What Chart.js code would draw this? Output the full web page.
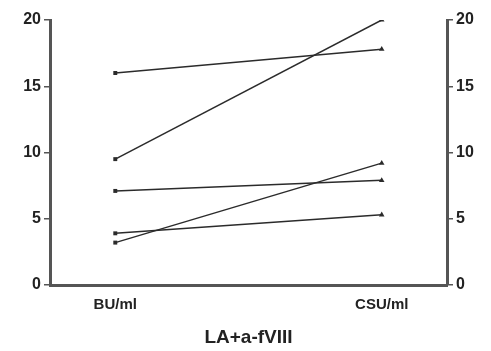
<!DOCTYPE html>
<html>
<head>
<meta charset="utf-8">
<script src="https://cdn.jsdelivr.net/npm/chart.js@4/dist/chart.umd.min.js"></script>
<style>
  html, body { margin: 0; padding: 0; background: #fff; }
  #wrap { width: 491px; height: 351px; }
</style>
</head>
<body>
<div id="wrap"><canvas id="c" width="491" height="351"></canvas></div>
<script>
// Paired measurements per patient: inhibitor titre (BU/ml) vs CSU/ml
const categories = ['BU/ml', 'CSU/ml'];
const buValues = [16, 9.5, 7.1, 3.9, 3.2];
const csuValues = [17.8, 20, 7.9, 5.3, 9.2];
const yTicks = [0, 5, 10, 15, 20];
const titleText = 'LA+a-fVIII';

const lineColor = '#2b2b2b';
const axisColor = '#555555';
const fontFamily = 'Liberation Sans, Arial, sans-serif';
const tickFont = { family: fontFamily, size: 16, weight: 'bold' };

const datasets = buValues.map((bu, i) => ({
  data: [{ x: 0, y: bu }, { x: 1, y: csuValues[i] }],
  borderColor: lineColor,
  backgroundColor: lineColor,
  borderWidth: 1.5,
  pointStyle: ['rect', 'triangle'],
  pointRadius: [2.8, 3.2],
  pointBorderWidth: 0,
  yAxisID: 'y'
}));

const yScale = (position, width) => ({
  type: 'linear',
  position: position,
  min: 0,
  max: 20,
  afterBuildTicks: s => { s.ticks = yTicks.map(v => ({ value: v })); },
  afterFit: s => { s.width = width; },
  border: { display: true, color: axisColor, width: 3 },
  grid: { display: true, drawOnChartArea: false, drawTicks: true, tickLength: 6, color: axisColor, lineWidth: 1.5 },
  ticks: { color: '#222', font: tickFont, padding: 3 }
});

new Chart(document.getElementById('c'), {
  type: 'line',
  data: { datasets },
  options: {
    responsive: false,
    animation: false,
    layout: { padding: { top: 20, left: 0, right: 0, bottom: 0 } },
    plugins: { legend: { display: false }, tooltip: { enabled: false } },
    scales: {
      x: {
        type: 'linear',
        min: -0.245,
        max: 1.245,
        afterBuildTicks: s => { s.ticks = categories.map((c, i) => ({ value: i })); },
        afterFit: s => { s.height = 66; },
        border: { display: true, color: axisColor, width: 3 },
        grid: { display: false },
        ticks: {
          color: '#222',
          font: { family: fontFamily, size: 15, weight: 'bold' },
          padding: 3,
          maxRotation: 0,
          callback: v => categories[v] ?? ''
        },
        title: {
          display: true,
          text: titleText,
          color: '#222',
          font: { family: fontFamily, size: 19, weight: 'bold' },
          padding: { top: 6, bottom: 2 }
        }
      },
      y: yScale('left', 50),
      y2: yScale('right', 44)
    }
  }
});
</script>
</body>
</html>
